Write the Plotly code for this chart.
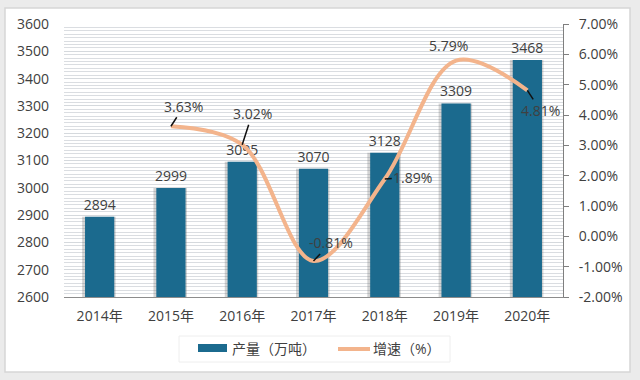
import plotly.graph_objects as go

years = ["2014年", "2015年", "2016年", "2017年", "2018年", "2019年", "2020年"]
output = [2894, 2999, 3095, 3070, 3128, 3309, 3468]
growth_years = ["2015年", "2016年", "2017年", "2018年", "2019年", "2020年"]
growth = [3.63, 3.02, -0.81, 1.89, 5.79, 4.81]
growth_labels = ["3.63%", "3.02%", "-0.81%", "1.89%", "5.79%", "4.81%"]
left_ticks = [2600, 2700, 2800, 2900, 3000, 3100, 3200, 3300, 3400, 3500, 3600]
right_ticks = [-2, -1, 0, 1, 2, 3, 4, 5, 6, 7]
legend_names = ["产量（万吨）", "增速（%）"]

W, H = 640, 380
L, R, T, B = 64, 77, 24, 83
pw, ph = W - L - R, H - T - B

def px(x):
    return (x - L) / pw

def py(y):
    return (H - B - y) / ph

FONT = "Open Sans, DejaVu Sans, Noto Sans CJK SC, sans-serif"
TXT = "#404040"
BAR = "#1b6a8e"
LINE = "#f3b48c"

fig = go.Figure()

fig.add_trace(go.Bar(
    x=years, y=output, showlegend=False, hoverinfo="skip",
    marker=dict(color="rgba(110,110,110,0.30)", line=dict(width=0)),
    width=0.47, offset=-0.245,
))

fig.add_trace(go.Bar(
    x=years, y=output, name=legend_names[0], showlegend=False,
    marker=dict(color=BAR, line=dict(width=0)),
    width=0.41, offset=-0.205,
    text=[str(v) for v in output], textposition="outside",
    textfont=dict(size=14, color=TXT, family=FONT),
    constraintext="none",
    cliponaxis=False,
))

fig.add_trace(go.Scatter(
    x=growth_years, y=growth, name=legend_names[1], yaxis="y2", showlegend=False,
    mode="lines", line=dict(color=LINE, width=4, shape="spline", smoothing=1.0),
))

offsets = [(13, -20, True), (10, -31, True), (17, -18, True), (28, -2, True), (-8, -15, False), (13, 20, True)]
for xv, yv, lab, (ax, ay, arr) in zip(growth_years, growth, growth_labels, offsets):
    if arr:
        fig.add_annotation(x=xv, y=yv, xref="x", yref="y2", text=lab,
                           showarrow=True, arrowhead=0, arrowwidth=1.5, arrowcolor="#111111",
                           ax=ax, ay=ay, standoff=0,
                           font=dict(size=14, color=TXT, family=FONT))
    else:
        fig.add_annotation(x=xv, y=yv, xref="x", yref="y2", text=lab,
                           showarrow=False, xshift=ax, yshift=-ay,
                           font=dict(size=14, color=TXT, family=FONT))

fig.add_shape(type="rect", xref="paper", yref="paper",
              x0=px(5), x1=px(630), y0=py(372), y1=py(8),
              fillcolor="white", line=dict(color="#d6d6d6", width=1.5), layer="below")

fig.add_shape(type="rect", xref="paper", yref="paper",
              x0=px(179), x1=px(450), y0=py(362), y1=py(336),
              fillcolor="white", line=dict(color="#eeeeee", width=1), layer="below")
fig.add_shape(type="rect", xref="paper", yref="paper",
              x0=px(198), x1=px(227), y0=py(352), y1=py(344),
              fillcolor=BAR, line=dict(width=0))
fig.add_annotation(xref="paper", yref="paper", x=px(230), y=py(348), xanchor="left", yanchor="middle",
                   text=legend_names[0], showarrow=False, font=dict(size=14, color=TXT, family=FONT))
fig.add_shape(type="line", xref="paper", yref="paper",
              x0=px(338), x1=px(370), y0=py(349), y1=py(349),
              line=dict(color=LINE, width=4))
fig.add_annotation(xref="paper", yref="paper", x=px(371), y=py(348), xanchor="left", yanchor="middle",
                   text=legend_names[1], showarrow=False, font=dict(size=14, color=TXT, family=FONT))

fig.update_layout(
    width=W, height=H,
    margin=dict(l=L, r=R, t=T, b=B, autoexpand=False),
    paper_bgcolor="#ebebeb",
    plot_bgcolor="rgba(0,0,0,0)",
    font=dict(family=FONT, size=14, color=TXT),
    showlegend=False,
    barmode="overlay",
    xaxis=dict(
        categoryorder="array", categoryarray=years, automargin=False,
        range=[-0.5, len(years) - 0.5],
        showline=True, linecolor="#8c8c8c", linewidth=1,
        ticks="", showgrid=False, ticklabelstandoff=6,
        tickfont=dict(size=14, color=TXT, family=FONT),
    ),
    yaxis=dict(
        range=[2600, 3600], tickvals=left_ticks, automargin=False,
        showline=False, ticks="", ticklabelstandoff=14,
        showgrid=True, gridcolor="#d5d9dd", gridwidth=1.2,
        minor=dict(dtick=12.5, showgrid=True, gridcolor="#dadde1", gridwidth=1.2),
        zeroline=False,
        tickfont=dict(size=14, color=TXT, family=FONT),
    ),
    yaxis2=dict(
        overlaying="y", side="right", range=[-2, 7], tickvals=right_ticks, automargin=False,
        ticktext=[f"{v:.2f}%" for v in right_ticks],
        showline=True, linecolor="#7f7f7f", linewidth=1,
        ticks="outside", ticklen=5, tickcolor="#7f7f7f", ticklabelstandoff=7,
        showgrid=False, zeroline=False,
        tickfont=dict(size=14, color=TXT, family=FONT),
    ),
)

fig.write_html("out.html", config={"displayModeBar": False},
               post_script="document.body.style.margin='0';document.body.style.background='#ebebeb';")
